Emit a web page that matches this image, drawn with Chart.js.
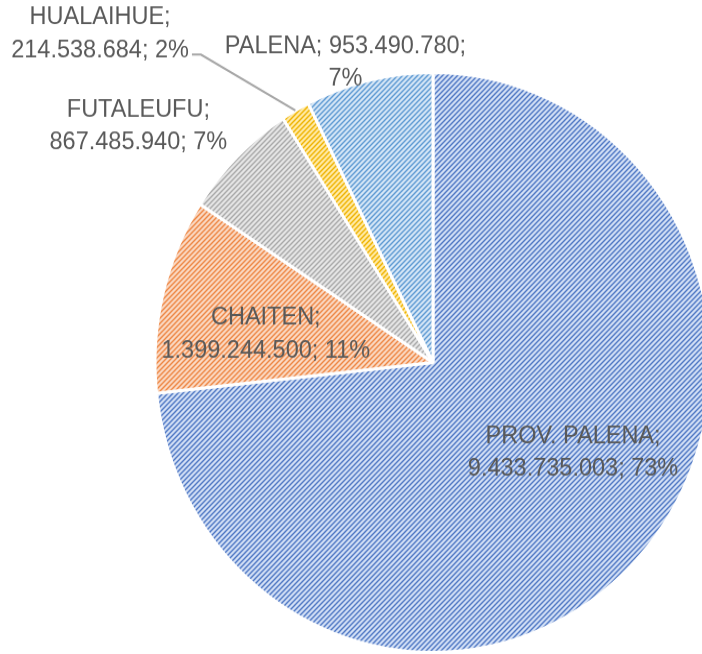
<!DOCTYPE html>
<html>
<head>
<meta charset="utf-8">
<script src="https://cdn.jsdelivr.net/npm/chart.js@4/dist/chart.umd.min.js"></script>
<style>
  html, body { margin: 0; padding: 0; background: #fff; overflow: hidden; }
  #wrap { width: 702px; height: 654px; overflow: hidden; }
  /* la imagen original viene algo estirada en vertical */
  #pie { transform: scale(1, 1.043); transform-origin: 0 0; }
</style>
</head>
<body>
<div id="wrap"><canvas id="pie" width="702" height="627"></canvas></div>
<script>
// datos
var comunas = ['PROV. PALENA', 'CHAITEN', 'FUTALEUFU', 'HUALAIHUE', 'PALENA'];
var montos = [9433735003, 1399244500, 867485940, 214538684, 953490780];
var porcentajes = ['73%', '11%', '7%', '2%', '7%'];
var montosTexto = ['9.433.735.003', '1.399.244.500', '867.485.940', '214.538.684', '953.490.780'];

// colores de trama (fondo, linea)
var tramas = [
  ['#D2DFF5', '#4F78C4'],
  ['#FAD8C2', '#EE8744'],
  ['#E6E6E6', '#A9A9A9'],
  ['#FFEAA6', '#EFB300'],
  ['#D5E6F6', '#5E9AD3']
];

// ubicacion de etiquetas: factor de radio sobre el angulo medio + ajuste en px
var ubicacion = [
  { f: 0.6, dx: 16, dy: -25 },
  { f: 0.6, dx: -5, dy: 12 },
  { f: 1.32, dx: -36, dy: 34 },
  { f: 1.3, dx: -154, dy: -1, leader: true },
  { f: 1.1, dx: -17, dy: 10, joined: true }
];

function makePattern(bg, fg) {
  var s = 5;
  var c = document.createElement('canvas');
  c.width = s; c.height = s;
  var x = c.getContext('2d');
  x.fillStyle = bg;
  x.fillRect(0, 0, s, s);
  x.strokeStyle = fg;
  x.lineWidth = 1.4;
  x.beginPath();
  x.moveTo(-1, s + 1); x.lineTo(s + 1, -1);
  x.moveTo(-1, 1); x.lineTo(1, -1);
  x.moveTo(s - 1, s + 1); x.lineTo(s + 1, s - 1);
  x.stroke();
  return x.createPattern(c, 'repeat');
}

var etiquetasPlugin = {
  id: 'etiquetas',
  afterDatasetsDraw: function(chart) {
    var ctx = chart.ctx;
    var meta = chart.getDatasetMeta(0);
    ctx.save();
    ctx.font = '23.5px "Liberation Sans", Arial, sans-serif';
    ctx.fillStyle = '#595959';
    ctx.textAlign = 'center';
    ctx.textBaseline = 'middle';
    var lh = 31.6;
    meta.data.forEach(function(arc, i) {
      var p = arc.getProps(['x', 'y', 'startAngle', 'endAngle', 'outerRadius'], true);
      var mid = (p.startAngle + p.endAngle) / 2;
      var u = ubicacion[i];
      var cx = p.x + Math.cos(mid) * p.outerRadius * u.f + u.dx;
      var cy = p.y + Math.sin(mid) * p.outerRadius * u.f + u.dy;
      var l1, l2;
      if (u.joined) {
        l1 = comunas[i] + '; ' + montosTexto[i] + ';';
        l2 = porcentajes[i];
      } else {
        l1 = comunas[i] + ';';
        l2 = montosTexto[i] + '; ' + porcentajes[i];
      }
      ctx.fillText(l1, cx, cy - lh / 2);
      ctx.fillText(l2, cx, cy + lh / 2);
      if (u.leader) {
        var w = ctx.measureText(l2).width;
        var x0 = cx + w / 2 + 3;
        var y0 = cy + lh / 2 + 4;
        var ex = p.x + Math.cos(mid) * p.outerRadius;
        var ey = p.y + Math.sin(mid) * p.outerRadius;
        ctx.strokeStyle = '#A6A6A6';
        ctx.lineWidth = 2;
        ctx.beginPath();
        ctx.moveTo(x0, y0);
        ctx.lineTo(x0 + 9, y0);
        ctx.lineTo(ex, ey);
        ctx.stroke();
      }
    });
    ctx.restore();
  }
};

var ctxPie = document.getElementById('pie');
new Chart(ctxPie, {
  type: 'pie',
  data: {
    labels: comunas,
    datasets: [{
      data: montos,
      backgroundColor: tramas.map(function(t) { return makePattern(t[0], t[1]); }),
      borderColor: '#ffffff',
      borderWidth: 3,
      hoverOffset: 0,
      radius: 278,
      clip: false
    }]
  },
  options: {
    responsive: false,
    animation: false,
    layout: { padding: { left: 164, right: 0, top: 68, bottom: 0 } },
    plugins: {
      legend: { display: false },
      tooltip: { enabled: false }
    }
  },
  plugins: [etiquetasPlugin]
});
</script>
</body>
</html>
